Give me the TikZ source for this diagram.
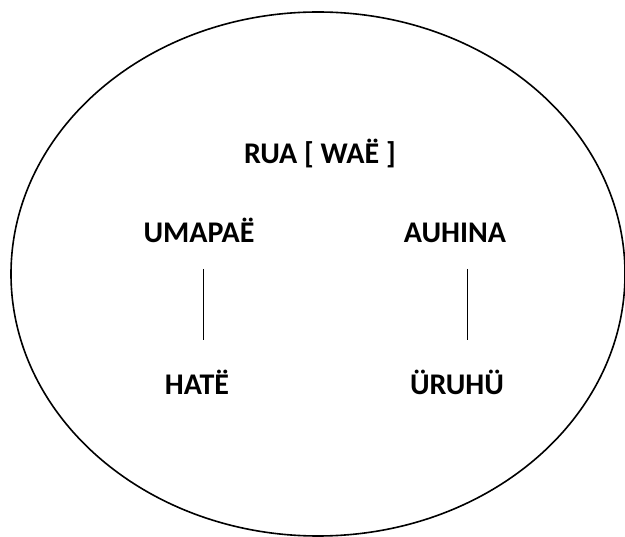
\documentclass[tikz,border=0pt]{standalone}
\usepackage{fontspec}
\setmainfont{Carlito}
\usepackage{tikz}

\tikzset{
  word/.style={font=\bfseries\fontsize{30}{34}\selectfont, anchor=base, inner sep=2pt},
  link/.style={line width=1pt, shorten <=26pt, shorten >=55pt}
}

\begin{document}
\begin{tikzpicture}[x=1pt,y=-1pt]
  \useasboundingbox (0,0) rectangle (625,537);
  \draw[line width=1.6pt] (318,274) ellipse [x radius=307, y radius=262];
  \node[word] (rua) at (320,164) {RUA [ WAË ]};
  \node[word] (umapae) at (199,243) {UMAPAË};
  \node[word] (auhina) at (455,243) {AUHINA};
  \node[word] (hate) at (197,395) {HATË};
  \node[word] (uruhu) at (457,395) {ÜRUHÜ};
  \draw[link] (umapae.base) ++(4,0) coordinate (l1) -- (l1 |- hate.base);
  \draw[link] (auhina.base) ++(12,0) coordinate (l2) -- (l2 |- uruhu.base);
\end{tikzpicture}
\end{document}
